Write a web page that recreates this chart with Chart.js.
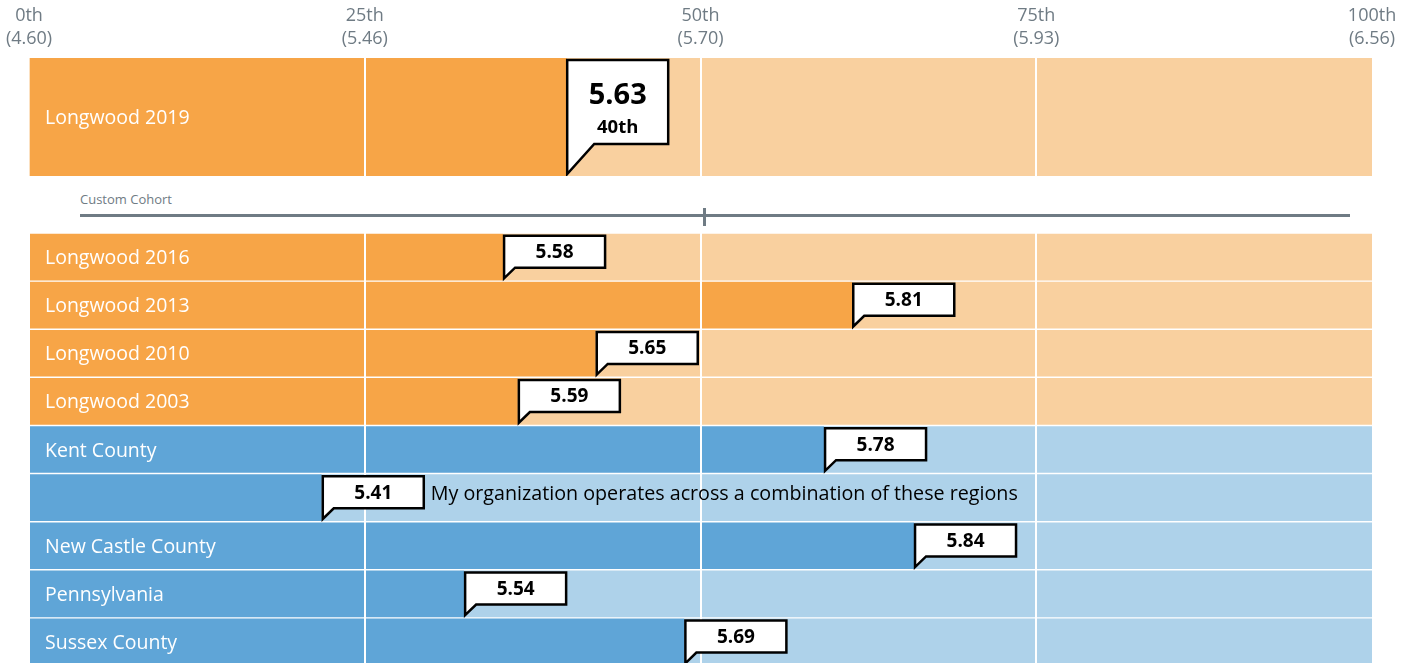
<!DOCTYPE html>
<html>
<head>
<meta charset="utf-8">
<script src="https://cdn.jsdelivr.net/npm/chart.js@4.4.1/dist/chart.umd.min.js"></script>
<style>
    body { margin: 0; width: 1411px; height: 663px; overflow: hidden; position: relative; background: #fff; font-family: 'Open Sans', sans-serif; }
    #topChart { position: absolute; left: 0; top: 0; }
    #rowsChart { position: absolute; left: 0; top: 233px; }
    .cohort-label { position: absolute; left: 80px; top: 190px; font-size: 13px; color: #6f7b84; }
    .cohort-line { position: absolute; left: 80px; top: 214px; width: 1270px; height: 3px; background: #6f7b84; }
    .cohort-tick { position: absolute; left: 703px; top: 208px; width: 3px; height: 18px; background: #6f7b84; }
</style>
</head>
<body>
<canvas id="topChart" width="1411" height="176"></canvas>
<div class="cohort-label">Custom Cohort</div>
<div class="cohort-line"></div>
<div class="cohort-tick"></div>
<canvas id="rowsChart" width="1411" height="433"></canvas>
<script>
// axis ticks
const percentileTicks = ['0th', '25th', '50th', '75th', '100th'];
const tickScores = ['4.60', '5.46', '5.70', '5.93', '6.56'];

// headline row
const headlineLabel = ['Longwood 2019'];
const headlineScore = [5.63];
const headlinePercentile = [40];

// comparison rows
const rowLabels = ['Longwood 2016', 'Longwood 2013', 'Longwood 2010', 'Longwood 2003',
    'Kent County', '', 'New Castle County', 'Pennsylvania', 'Sussex County'];
const rowScores = [5.58, 5.81, 5.65, 5.59, 5.78, 5.41, 5.84, 5.54, 5.69];
const rowPercentiles = [35.3, 61.3, 42.2, 36.4, 59.2, 21.8, 65.9, 32.4, 48.8];
const rowGroups = ['longwood', 'longwood', 'longwood', 'longwood', 'region', 'region', 'region', 'region', 'region'];
const rowNotes = ['', '', '', '', '', 'My organization operates across a combination of these regions', '', '', ''];

const COLORS = {
    longwood: { dark: '#f7a547', light: '#f9d09f' },
    region: { dark: '#5fa5d7', light: '#aed2ea' }
};
const FONT = "'Open Sans', sans-serif";

function ordinal(n) {
    return Math.round(n) + 'th';
}

function drawCallout(ctx, x, barTop, barBottom, big) {
    const w = 101;
    const top = barTop + 2;
    const bottom = big ? barTop + 86 : top + 32;
    const tipY = barBottom - 2;
    const tail = big ? 27 : 11;
    ctx.save();
    ctx.beginPath();
    ctx.moveTo(x, tipY);
    ctx.lineTo(x, top);
    ctx.lineTo(x + w, top);
    ctx.lineTo(x + w, bottom);
    ctx.lineTo(x + tail, bottom);
    ctx.closePath();
    ctx.fillStyle = '#fff';
    ctx.fill();
    ctx.lineWidth = 2.5;
    ctx.strokeStyle = '#000';
    ctx.lineJoin = 'miter';
    ctx.stroke();
    ctx.restore();
    return { left: x, right: x + w, top: top, bottom: bottom };
}

function labelPlugin(labels, scores, percentiles, notes, big) {
    return {
        id: 'callouts',
        afterDraw(chart) {
            const ctx = chart.ctx;
            const meta = chart.getDatasetMeta(0);
            meta.data.forEach((bar, i) => {
                const top = bar.y - bar.height / 2;
                const bottom = bar.y + bar.height / 2;
                ctx.save();
                ctx.fillStyle = '#fff';
                ctx.font = '19.5px ' + FONT;
                ctx.textBaseline = 'middle';
                ctx.textAlign = 'left';
                ctx.fillText(labels[i], 45, bar.y + 1.5);
                ctx.restore();

                const box = drawCallout(ctx, bar.x + 1, top, bottom, big);
                const cx = (box.left + box.right) / 2;
                ctx.save();
                ctx.fillStyle = '#000';
                ctx.textAlign = 'center';
                ctx.textBaseline = 'middle';
                if (big) {
                    ctx.font = 'bold 29px ' + FONT;
                    ctx.fillText(scores[i].toFixed(2), cx, box.top + 36);
                    ctx.font = 'bold 18.5px ' + FONT;
                    ctx.fillText(ordinal(percentiles[i]), cx, box.top + 68);
                } else {
                    ctx.font = 'bold 19px ' + FONT;
                    ctx.fillText(scores[i].toFixed(2), cx, (box.top + box.bottom) / 2 + 1);
                }
                if (notes && notes[i]) {
                    ctx.textAlign = 'left';
                    ctx.font = '19.7px ' + FONT;
                    ctx.fillText(notes[i], box.right + 7, (box.top + box.bottom) / 2 + 2);
                }
                ctx.restore();
            });
        }
    };
}

function gridColor(c) {
    return (c.tick && (c.tick.value === 0 || c.tick.value === 100)) ? 'rgba(0,0,0,0)' : '#fff';
}

function buildChart(id, labels, percentiles, colorKeys, options) {
    return new Chart(document.getElementById(id).getContext('2d'), {
        type: 'bar',
        data: {
            labels: labels,
            datasets: [{
                data: percentiles,
                backgroundColor: colorKeys.map(k => COLORS[k].dark),
                barPercentage: options.barPercentage,
                categoryPercentage: 1
            }, {
                data: percentiles.map(p => 100 - p),
                backgroundColor: colorKeys.map(k => COLORS[k].light),
                barPercentage: options.barPercentage,
                categoryPercentage: 1
            }]
        },
        options: {
            indexAxis: 'y',
            responsive: false,
            animation: false,
            layout: { padding: { left: 29, right: 39, top: 0, bottom: 0 } },
            plugins: { legend: { display: false }, tooltip: { enabled: false } },
            scales: {
                x: {
                    stacked: true,
                    position: 'top',
                    min: 0,
                    max: 100,
                    border: { display: false },
                    grid: { z: 1, color: gridColor, lineWidth: 2, drawTicks: false },
                    ticks: {
                        display: options.showTicks,
                        stepSize: 25,
                        padding: 8,
                        color: '#6f7b84',
                        font: { family: FONT, size: 18, lineHeight: 1.28 },
                        callback: (v, i) => [percentileTicks[i], '(' + tickScores[i] + ')']
                    },
                    afterFit: scale => {
                        scale.height = options.axisHeight;
                        scale.paddingLeft = 0;
                        scale.paddingRight = 0;
                    }
                },
                y: { stacked: true, display: false }
            }
        },
        plugins: [labelPlugin(labels, options.scores, percentiles, options.notes, options.big)]
    });
}

buildChart('topChart', headlineLabel, headlinePercentile, ['longwood'], {
    barPercentage: 1, showTicks: true, axisHeight: 58,
    scores: headlineScore, notes: null, big: true
});

buildChart('rowsChart', rowLabels, rowPercentiles, rowGroups, {
    barPercentage: 0.97, showTicks: false, axisHeight: 0,
    scores: rowScores, notes: rowNotes, big: false
});
</script>
</body>
</html>
